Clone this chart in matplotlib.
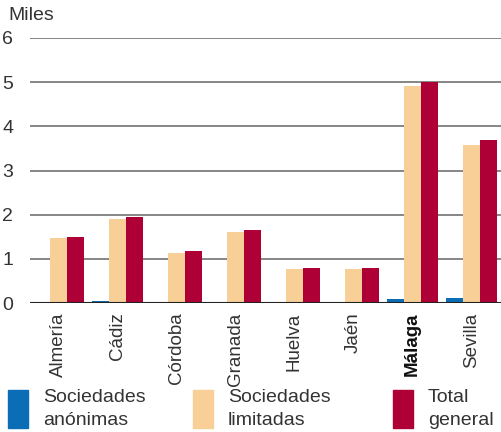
import matplotlib
matplotlib.use('Agg')
import matplotlib.pyplot as plt
import numpy as np

provincias = ['Almería', 'Cádiz', 'Córdoba', 'Granada', 'Huelva', 'Jaén', 'Málaga', 'Sevilla']
anonimas = [0.0, 0.05, 0.03, 0.03, 0.0, 0.0, 0.10, 0.12]
limitadas = [1.48, 1.91, 1.14, 1.61, 0.78, 0.78, 4.91, 3.57]
total = [1.50, 1.95, 1.18, 1.65, 0.80, 0.80, 5.00, 3.68]
yticks = [0, 1, 2, 3, 4, 5, 6]

c_anon = '#0a6db5'
c_lim = '#f8cf96'
c_tot = '#ae0037'
txt = '#333333'

plt.rcParams['font.family'] = ['Liberation Sans', 'DejaVu Sans']

fig = plt.figure(figsize=(5.02, 4.32), dpi=100)
ax = fig.add_axes([30 / 502, 1 - 303 / 432, 472 / 502, 265 / 432])

x = np.arange(len(provincias))
w = 17 / 59
ax.bar(x - w, anonimas, w, color=c_anon, zorder=3)
ax.bar(x, limitadas, w, color=c_lim, zorder=3)
ax.bar(x + w, total, w, color=c_tot, zorder=3)

ax.set_xlim(-0.483, 7.517)
ax.set_ylim(0, 6)
ax.set_yticks(yticks)
ax.set_yticklabels([str(t) for t in yticks], fontsize=14, color=txt)
for t in yticks[1:]:
    ax.axhline(t, color='#666666', lw=1.1, zorder=1)
ax.axhline(0, color='#222222', lw=1.5, zorder=4)
ax.tick_params(axis='y', length=0, pad=12)
ax.tick_params(axis='x', length=0, pad=7)
ax.set_xticks(x)
ax.set_xticklabels(provincias, rotation=90, fontsize=13.5, color=txt)
for lbl in ax.get_xticklabels():
    if lbl.get_text() == 'Málaga':
        lbl.set_fontweight('bold')
        lbl.set_color('#111111')
for s in ax.spines.values():
    s.set_visible(False)

fig.text(8 / 502, 1 - 16 / 432, 'Miles', fontsize=14, color=txt, va='center', ha='left')

labels = ['Sociedades\nanónimas', 'Sociedades\nlimitadas', 'Total\ngeneral']
leg_x = [8, 193, 393]
for hx, col, lab in zip(leg_x, [c_anon, c_lim, c_tot], labels):
    fig.patches.append(plt.Rectangle((hx / 502, 1 - 428 / 432), 20 / 502, 38 / 432,
                                     transform=fig.transFigure, color=col, figure=fig))
    fig.text((hx + 35) / 502, 1 - 409 / 432, lab, fontsize=14, color=txt,
             va='center', ha='left', linespacing=1.5)

fig.savefig('out.png', dpi=100)
